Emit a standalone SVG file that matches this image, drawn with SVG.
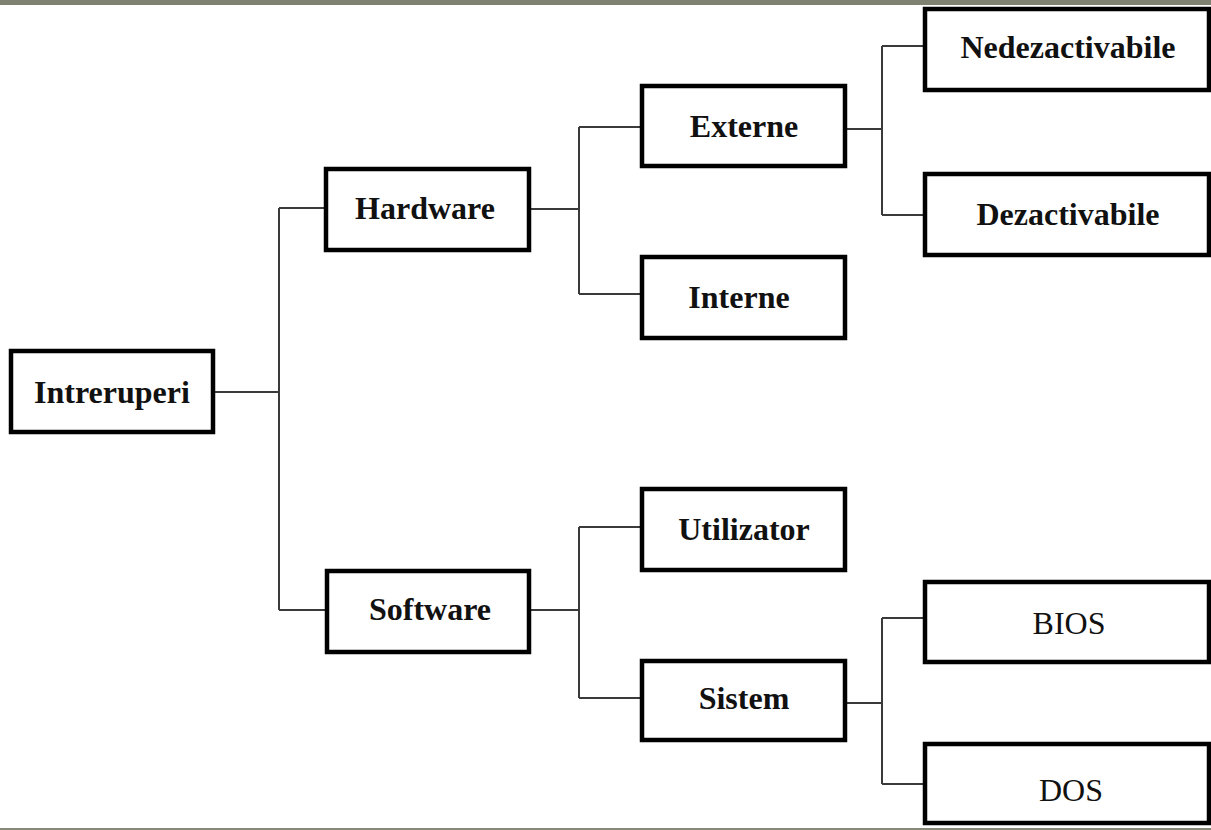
<svg xmlns="http://www.w3.org/2000/svg" width="1211" height="830" viewBox="0 0 1211 830">
  <style>
    .box { fill: #ffffff; stroke: #000000; stroke-width: 4.5; }
    .lbl { font-family: "Liberation Serif", "Times New Roman", serif; font-size: 32px; font-weight: bold; fill: #111111; text-anchor: middle; }
    .lbl.reg { font-weight: normal; }
    .wire { fill: none; stroke: #3a3a3a; stroke-width: 2; }
  </style>

  <!-- page background and frame bands -->
  <rect x="0" y="0" width="1211" height="830" fill="#ffffff"/>
  <rect x="0" y="0" width="1211" height="5" fill="#7f8270"/>
  <rect x="0" y="828" width="1211" height="2" fill="#878a78"/>

  <!-- connectors -->
  <g id="connectors" class="wire">
    <path d="M215 392 H279 M279 208 V610 M279 208 H324 M279 610 H325"/>
    <path d="M531 209 H579 M579 127 V294 M579 127 H640 M579 294 H640"/>
    <path d="M847 129 H882 M882 46 V215 M882 46 H923 M882 215 H923"/>
    <path d="M531 610 H579 M579 527 V698 M579 527 H640 M579 698 H640"/>
    <path d="M847 703 H882 M882 618 V784 M882 618 H923 M882 784 H923"/>
  </g>

  <g id="intreruperi">
    <rect class="box" x="11" y="351" width="202" height="81"/>
    <text class="lbl" x="112" y="403">Intreruperi</text>
  </g>

  <g id="hardware">
    <rect class="box" x="326" y="169" width="203" height="81"/>
    <text class="lbl" x="425" y="219">Hardware</text>
  </g>

  <g id="software">
    <rect class="box" x="327" y="571" width="202" height="81"/>
    <text class="lbl" x="430" y="620">Software</text>
  </g>

  <g id="externe">
    <rect class="box" x="642" y="86" width="203" height="80"/>
    <text class="lbl" x="744" y="137">Externe</text>
  </g>

  <g id="interne">
    <rect class="box" x="642" y="257" width="203" height="81"/>
    <text class="lbl" x="739" y="308">Interne</text>
  </g>

  <g id="utilizator">
    <rect class="box" x="642" y="489" width="203" height="81"/>
    <text class="lbl" x="744" y="540">Utilizator</text>
  </g>

  <g id="sistem">
    <rect class="box" x="642" y="661" width="203" height="79"/>
    <text class="lbl" x="744" y="709">Sistem</text>
  </g>

  <g id="nedezactivabile">
    <rect class="box" x="925" y="9" width="284" height="81"/>
    <text class="lbl" x="1068" y="58">Nedezactivabile</text>
  </g>

  <g id="dezactivabile">
    <rect class="box" x="925" y="174" width="284" height="81"/>
    <text class="lbl" x="1068" y="225">Dezactivabile</text>
  </g>

  <g id="bios">
    <rect class="box" x="925" y="582" width="284" height="80"/>
    <text class="lbl reg" x="1069" y="634">BIOS</text>
  </g>

  <g id="dos">
    <rect class="box" x="925" y="744" width="284" height="79"/>
    <text class="lbl reg" x="1071" y="801">DOS</text>
  </g>
</svg>
